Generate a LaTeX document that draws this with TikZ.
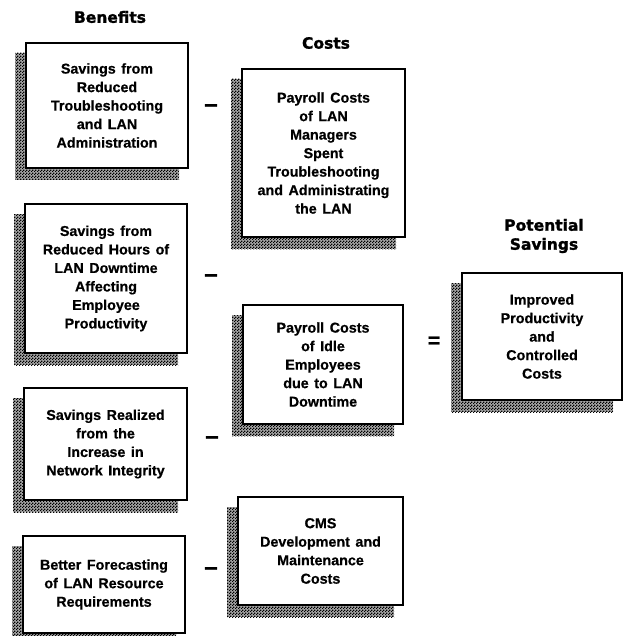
\documentclass[tikz,border=0pt]{standalone}
\usepackage{fontspec}
\setmainfont[BoldFeatures={FakeBold=0.6}, WordSpace=1.4]{Liberation Sans}
\newfontfamily\headfont[BoldFeatures={FakeBold=1.5}]{DejaVu Sans}
\usetikzlibrary{patterns.meta}

\pgfdeclarelayer{background}
\pgfsetlayers{background,main}

% fine dot screen used for the drop shadows
\tikzdeclarepattern{
  name=screendots,
  type=uncolored,
  bounding box={(0pt,0pt) and (2.6pt,2.6pt)},
  tile size={(2.6pt,2.6pt)},
  code={
    \fill (0pt,0pt) rectangle (1.3pt,1.3pt);
    \fill (1.3pt,1.3pt) rectangle (2.6pt,2.6pt);
  }
}

\tikzset{
  itembox/.style={draw=black, line width=2pt, fill=white, align=center,
    inner sep=0pt, font=\fontsize{14.3}{18.5}\selectfont\bfseries},
  heading/.style={align=center, font=\headfont\fontsize{15.5}{19}\selectfont\bfseries},
  sign/.style={inner sep=0pt, font=\fontsize{24}{24}\selectfont\bfseries},
  shadowbase/.style={fill=black!35},
  shadowfill/.style={pattern=screendots, pattern color=black},
}

% drop shadow behind a box: same size, shifted left and down
\newcommand{\boxshadow}[1]{%
  \fill[shadowbase] ([shift={(-10,11)}]#1.north west) rectangle ([shift={(-10,11)}]#1.south east);
  \fill[shadowfill] ([shift={(-10,11)}]#1.north west) rectangle ([shift={(-10,11)}]#1.south east);}

\begin{document}
\begin{tikzpicture}[x=1pt, y=-1pt]
\useasboundingbox (0,0) rectangle (624,636);

% column headings
\node[heading] (hbenefits) at (110,17) {Benefits};
\node[heading] (hcosts) at (326,43) {Costs};
\node[heading] (hsavings) at (544,236) {Potential\\Savings};

% benefit boxes
\path (107,105.5) node[itembox, minimum width=162pt, minimum height=125pt] (b1)
  {Savings from\\Reduced\\Troubleshooting\\and LAN\\Administration};
\path (106,278.5) node[itembox, minimum width=162pt, minimum height=149pt] (b2)
  {Savings from\\Reduced Hours of\\LAN Downtime\\Affecting\\Employee\\Productivity};
\path (105.5,444) node[itembox, minimum width=163pt, minimum height=112pt] (b3)
  {Savings Realized\\from the\\Increase in\\Network Integrity};
\path (104,584.5) node[itembox, minimum width=162pt, minimum height=97pt] (b4)
  {Better Forecasting\\of LAN Resource\\Requirements};

% cost boxes
\path (323.5,153) node[itembox, minimum width=163pt, minimum height=168pt] (c1)
  {Payroll Costs\\of LAN\\Managers\\Spent\\Troubleshooting\\and Administrating\\the LAN};
\path (323,364.5) node[itembox, minimum width=160pt, minimum height=119pt] (c2)
  {Payroll Costs\\of Idle\\Employees\\due to LAN\\Downtime};
\path (320.5,551) node[itembox, minimum width=165pt, minimum height=108pt] (c3)
  {CMS\\Development and\\Maintenance\\Costs};

% result box
\path (542,336.5) node[itembox, minimum width=160pt, minimum height=127pt] (r)
  {Improved\\Productivity\\and\\Controlled\\Costs};

% shadows go underneath the boxes
\begin{pgfonlayer}{background}
  \boxshadow{b1}\boxshadow{b2}\boxshadow{b3}\boxshadow{b4}
  \boxshadow{c1}\boxshadow{c2}\boxshadow{c3}
  \boxshadow{r}
\end{pgfonlayer}

% minus and equals signs
\node[sign] (minus1) at (211,108) {–};
\node[sign] (minus2) at (211,278) {–};
\node[sign] (minus3) at (212,440) {–};
\node[sign] (minus4) at (211,571) {–};
\node[sign, font=\fontsize{21}{21}\selectfont\bfseries] (equals) at (434,342) {=};
\end{tikzpicture}
\end{document}
